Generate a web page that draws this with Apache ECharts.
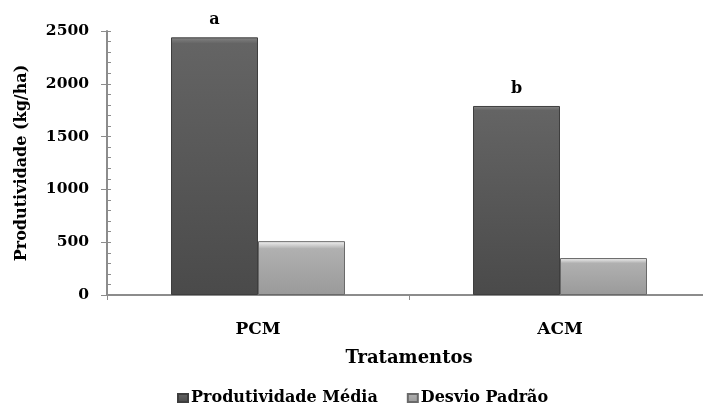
<!DOCTYPE html>
<html>
<head>
<meta charset="utf-8">
<script src="https://cdn.jsdelivr.net/npm/echarts@6/dist/echarts.min.js"></script>
<style>
  html, body { margin: 0; padding: 0; background: #fff; overflow: hidden; }
  /* o eixo x continua além da borda direita no original: a área é um pouco mais larga que a janela */
  #chart { width: 711px; height: 405px; }
</style>
</head>
<body>
<div id="chart"></div>
<script>
	// dados
	var categorias = ['PCM', 'ACM'];
	var produtividadeMedia = [2440, 1790];
	var desvioPadrao = [510, 350];
	var letras = ['a', 'b'];
	var nomesSeries = ['Produtividade Média', 'Desvio Padrão'];

	var fonte = 'DejaVu Serif';
	var corEixo = '#8c8c8c';

	function gradiente(topo, faixa, corpo, base, f) {
		return new echarts.graphic.LinearGradient(0, 0, 0, 1, [
			{offset: 0, color: topo},
			{offset: f, color: faixa},
			{offset: f * 2, color: corpo},
			{offset: 1, color: base}
		]);
	}

	var chart = echarts.init(document.getElementById('chart'));

	var option = {
		backgroundColor: '#fff',
		animation: false,
		grid: {left: 107, top: 31, right: 0, height: 264},
		legend: {
			data: nomesSeries,
			left: 172,
			top: 385,
			itemWidth: 10,
			itemHeight: 8,
			itemGap: 29,
			icon: 'rect',
			textStyle: {fontFamily: fonte, fontWeight: 'bold', fontSize: 16, color: '#000', padding: [0, 0, 0, -2]}
		},
		xAxis: {
			type: 'category',
			data: categorias,
			name: 'Tratamentos',
			nameLocation: 'middle',
			nameGap: 54,
			nameTextStyle: {fontFamily: fonte, fontWeight: 'bold', fontSize: 18, color: '#000'},
			axisLine: {lineStyle: {color: corEixo, width: 2}},
			axisTick: {show: true, length: 5, lineStyle: {color: corEixo}},
			axisLabel: {margin: 26, fontFamily: fonte, fontWeight: 'bold', fontSize: 17, color: '#000'}
		},
		yAxis: [
			{
				type: 'value',
				min: 0,
				max: 2500,
				interval: 500,
				name: 'Produtividade (kg/ha)',
				nameLocation: 'middle',
				nameGap: 77,
				nameTextStyle: {fontFamily: fonte, fontWeight: 'bold', fontSize: 16, color: '#000'},
				axisLine: {show: true, lineStyle: {color: corEixo, width: 2}},
				axisTick: {show: true, inside: true, length: 4, lineStyle: {color: corEixo}},
				minorTick: {show: true, splitNumber: 5, length: 4, lineStyle: {color: corEixo}},
				splitLine: {show: false},
				axisLabel: {
					margin: 18,
					formatter: function (v) { return String(v); },
					fontFamily: fonte, fontWeight: 'bold', fontSize: 15.5, color: '#000'
				}
			},
			{
				// só os traços maiores para fora do eixo
				type: 'value',
				min: 0,
				max: 2500,
				interval: 500,
				position: 'left',
				axisLine: {show: false},
				axisTick: {show: true, length: 6, lineStyle: {color: corEixo}},
				axisLabel: {show: false},
				splitLine: {show: false}
			}
		],
		series: [
			{
				name: nomesSeries[0],
				type: 'bar',
				data: produtividadeMedia,
				barWidth: 87,
				barGap: '0%',
				itemStyle: {
					color: gradiente('#8a8a8a', '#747474', '#646464', '#4a4a4a', 0.012),
					borderColor: '#3e3e3e',
					borderWidth: 1
				},
				label: {
					show: true,
					position: 'top',
					distance: 9,
					formatter: function (p) { return letras[p.dataIndex]; },
					fontFamily: fonte,
					fontWeight: 'bold',
					fontSize: 16,
					color: '#000'
				}
			},
			{
				name: nomesSeries[1],
				type: 'bar',
				data: desvioPadrao,
				barWidth: 87,
				itemStyle: {
					color: gradiente('#f4f4f4', '#d2d2d2', '#b0b0b0', '#9a9a9a', 0.07),
					borderColor: '#6a6a6a',
					borderWidth: 1
				}
			}
		]
	};

	chart.setOption(option);
</script>
</body>
</html>
